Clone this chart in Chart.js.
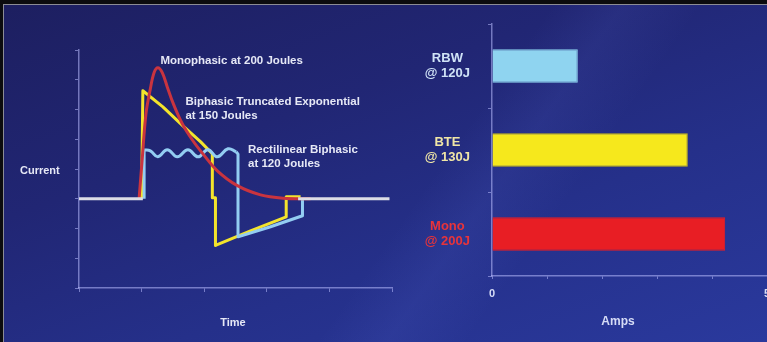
<!DOCTYPE html>
<html>
<head>
<meta charset="utf-8">
<script src="https://cdn.jsdelivr.net/npm/chart.js@4.4.1/dist/chart.umd.min.js"></script>
<style>
  html, body { margin: 0; padding: 0; width: 767px; height: 342px; overflow: hidden; }
  #bg {
    position: absolute; left: 0; top: 0; width: 767px; height: 342px;
    box-sizing: border-box;
    border-top: 4px solid #0c0c0e; border-left: 3px solid #0c0c0e;
    box-shadow: inset 1px 1px 0 #8c8c94;
    background:
      linear-gradient(125deg, rgba(255,255,255,0) 55%, rgba(120,140,255,0.08) 62%, rgba(255,255,255,0) 70%),
      linear-gradient(160deg, #1d1f60 0%, #212674 35%, #25308a 65%, #2a399d 100%);
  }
  canvas { position: absolute; top: 0; }
  #wave { left: 0; }
  #amps { left: 400px; }
</style>
</head>
<body>
<div id="bg"></div>
<canvas id="wave" width="400" height="342"></canvas>
<canvas id="amps" width="367" height="342"></canvas>
<script>
// waveform: time (arbitrary units) vs current
const baseT = [0, 1.02, null, 3.5, 4.96];
const baseI = [0, 0, null, 0, 0];

const monoT = [0.96, 1.01, 1.07, 1.14, 1.2, 1.26, 1.33, 1.41, 1.5, 1.65, 1.82, 1.98, 2.21, 2.53, 2.9, 3.26, 3.7];
const monoI = [0, 1.34, 2.86, 3.7, 4.24, 4.4, 4.24, 3.76, 3.23, 2.52, 1.95, 1.51, 0.94, 0.44, 0.13, 0.02, 0];

const bteT = [1.0, 1.02, 1.34, 1.66, 1.94, 2.13, 2.13, 2.18, 2.18, 2.74, 3.31, 3.31, 3.54];
const bteI = [0, 3.63, 3.09, 2.45, 1.92, 1.51, 0.03, 0.03, -1.57, -1.08, -0.61, 0.07, 0.07];

const rbwEdgeT = [1.04, 1.04, null, 2.51, 2.54, 2.54, 3.06, 3.57, 3.57];
const rbwEdgeI = [0, 1.65, null, 1.58, 1.5, -1.28, -0.94, -0.57, 0];
const rbwWaveT = [1.04, 1.14, 1.26, 1.41, 1.57, 1.74, 1.9, 2.06, 2.21, 2.38, 2.51];
const rbwWaveI = [1.65, 1.61, 1.41, 1.65, 1.41, 1.65, 1.41, 1.65, 1.41, 1.68, 1.58];

// peak current bars
const devices = [['RBW', '@ 120J'], ['BTE', '@ 130J'], ['Mono', '@ 200J']];
const peakAmps = [1.56, 3.56, 4.24];

const pts = (t, i) => t.map((v, k) => (v === null ? { x: null, y: null } : { x: v, y: i[k] }));

const notes = [
  { text: 'Monophasic at 200 Joules', t: 1.3, i: 4.64 },
  { text: 'Biphasic Truncated Exponential', t: 1.7, i: 3.26 },
  { text: 'at 150 Joules', t: 1.7, i: 2.79 },
  { text: 'Rectilinear Biphasic', t: 2.7, i: 1.65 },
  { text: 'at 120 Joules', t: 2.7, i: 1.18 }
];

const FONT = '"Liberation Sans", Arial, sans-serif';
const axisCol = 'rgba(185,190,255,0.55)';

const waveText = {
  id: 'waveText',
  afterDatasetsDraw(chart) {
    const { ctx, chartArea, scales: { x, y } } = chart;
    ctx.save();
    ctx.fillStyle = '#e6e8f6';
    ctx.textBaseline = 'middle';
    ctx.font = 'bold 11.5px ' + FONT;
    notes.forEach(n => ctx.fillText(n.text, x.getPixelForValue(n.t), y.getPixelForValue(n.i)));
    ctx.font = 'bold 11px ' + FONT;
    ctx.fillText('Current', 20, y.getPixelForValue(0.95));
    ctx.textAlign = 'center';
    ctx.fillText('Time', chartArea.left + 154, 323);
    ctx.restore();
  }
};

new Chart(document.getElementById('wave'), {
  type: 'line',
  data: {
    datasets: [
      { data: pts(baseT, baseI), borderColor: '#dcdde6', tension: 0 },
      { data: pts(monoT, monoI), borderColor: '#c9343f', tension: 0.35 },
      { data: pts(rbwEdgeT, rbwEdgeI), borderColor: '#93cdf2', tension: 0 },
      { data: pts(rbwWaveT, rbwWaveI), borderColor: '#93cdf2', tension: 0.45 },
      { data: pts(bteT, bteI), borderColor: '#f3e42c', tension: 0 }
    ]
  },
  options: {
    responsive: false,
    devicePixelRatio: 1,
    animation: false,
    spanGaps: false,
    layout: { autoPadding: false, padding: { top: 50, right: 8, left: 0, bottom: 0 } },
    elements: { point: { radius: 0 }, line: { borderWidth: 3, borderJoinStyle: 'round' } },
    plugins: { legend: { display: false }, tooltip: { enabled: false } },
    scales: {
      x: {
        type: 'linear', min: 0, max: 5,
        ticks: { display: false, stepSize: 1 },
        grid: { drawOnChartArea: false, drawTicks: true, tickLength: 4, color: axisCol },
        border: { color: axisCol, width: 1.5 },
        afterFit(s) { s.height = 54; }
      },
      y: {
        min: -3, max: 5,
        ticks: { display: false, stepSize: 1 },
        grid: { drawOnChartArea: false, drawTicks: true, tickLength: 4, color: axisCol },
        border: { color: axisCol, width: 1.5 },
        afterFit(s) { s.width = 79; }
      }
    }
  },
  plugins: [waveText]
});

const ampsText = {
  id: 'ampsText',
  afterDraw(chart) {
    const { ctx, chartArea } = chart;
    ctx.save();
    ctx.fillStyle = '#d6dcf6';
    ctx.font = 'bold 12px ' + FONT;
    ctx.textAlign = 'center';
    ctx.textBaseline = 'middle';
    ctx.fillText('Amps', chartArea.left + 126, 322);
    ctx.restore();
  }
};

new Chart(document.getElementById('amps'), {
  type: 'bar',
  data: {
    labels: devices,
    datasets: [{
      data: peakAmps,
      backgroundColor: ['#8fd4f0', '#f6e81c', '#e81e24'],
      borderColor: ['#8fd4f0', '#c9b915', '#e81e24'],
      borderWidth: 1,
      barPercentage: 0.4,
      categoryPercentage: 1
    }]
  },
  options: {
    indexAxis: 'y',
    responsive: false,
    devicePixelRatio: 1,
    animation: false,
    layout: { autoPadding: false, padding: { top: 24, right: 0, left: 0, bottom: 0 } },
    plugins: { legend: { display: false }, tooltip: { enabled: false } },
    scales: {
      x: {
        min: 0, max: 5,
        ticks: {
          stepSize: 1, padding: 8, color: '#d6dcf6',
          font: { family: FONT, size: 11, weight: 'bold' },
          callback: v => (v === 0 || v === 5 ? String(v) : '')
        },
        grid: { drawOnChartArea: false, tickLength: 3, color: axisCol },
        border: { color: axisCol, width: 1.5 },
        afterFit(s) { s.height = 342 - 24 - 252; s.paddingLeft = 0; s.paddingRight = 0; }
      },
      y: {
        ticks: {
          color: ['#cfe2f6', '#f0e6a6', '#e8343a'],
          font: { family: FONT, size: 13, weight: 'bold' },
          crossAlign: 'center',
          padding: 18
        },
        grid: { drawOnChartArea: false, tickLength: 4, color: axisCol },
        border: { color: axisCol, width: 1.5 },
        afterFit(s) { s.width = 92; s.paddingTop = 0; s.paddingBottom = 0; }
      }
    }
  },
  plugins: [ampsText]
});
</script>
</body>
</html>
